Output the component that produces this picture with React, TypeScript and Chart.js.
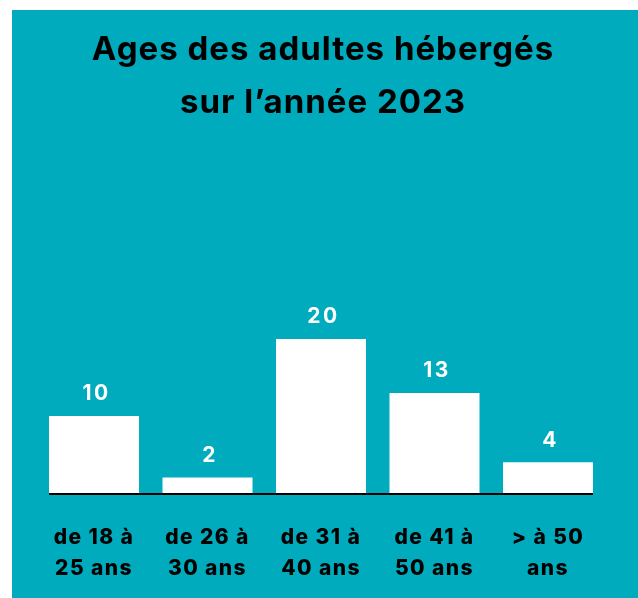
import React, { useEffect, useRef } from "react";
import { Chart, registerables } from "chart.js";

Chart.register(...registerables);

const titleLines = ["Ages des adultes hébergés", "sur l\u2019année 2023"];
const categories: string[][] = [
  ["de 18 à", "25 ans"],
  ["de 26 à", "30 ans"],
  ["de 31 à", "40 ans"],
  ["de 41 à", "50 ans"],
  ["> à 50", "ans"],
];
const values = [10, 2, 20, 13, 4];

const TEAL = "#00abbd";
const FONT = "Inter, 'DejaVu Sans', sans-serif";

const overlayPlugin = {
  id: "overlay",
  beforeDraw(chart: any) {
    // wider tracking for the axis labels drawn by the x scale
    (chart.ctx as any).letterSpacing = "1.4px";
  },
  beforeDatasetsDraw(chart: any) {
    (chart.ctx as any).letterSpacing = "0px";
  },
  afterDraw(chart: any) {
    const ctx = chart.ctx;
    const meta = chart.getDatasetMeta(0);
    const bars = meta.data;
    const y0 = chart.scales.y.getPixelForValue(0);
    ctx.save();
    // title
    ctx.fillStyle = "#000";
    ctx.font = `700 33px ${FONT}`;
    ctx.textAlign = "center";
    ctx.textBaseline = "middle";
    (ctx as any).letterSpacing = "1px";
    const cx = chart.width / 2 - 2;
    titleLines.forEach((t, i) => ctx.fillText(t, cx, 40.5 + i * 52.5));
    // baseline
    const first = bars[0];
    const last = bars[bars.length - 1];
    ctx.strokeStyle = "#000";
    ctx.lineWidth = 2;
    ctx.beginPath();
    ctx.moveTo(first.x - first.width / 2, y0 + 1);
    ctx.lineTo(last.x + last.width / 2, y0 + 1);
    ctx.stroke();
    // value labels
    ctx.fillStyle = "#fff";
    ctx.font = `700 21px ${FONT}`;
    (ctx as any).letterSpacing = "2.5px";
    bars.forEach((b: any, i: number) => {
      ctx.fillText(String(values[i]), b.x + 2.5, b.y - 22);
    });
    ctx.restore();
    (ctx as any).letterSpacing = "0px";
  },
};

export default function App() {
  const ref = useRef<HTMLCanvasElement>(null);
  useEffect(() => {
    const chart = new Chart(ref.current!, {
      type: "bar",
      data: {
        labels: categories,
        datasets: [
          {
            data: values,
            backgroundColor: "#ffffff",
            borderWidth: 0,
            barPercentage: 0.793,
            categoryPercentage: 1,
          },
        ],
      },
      options: {
        animation: false,
        responsive: false,
        maintainAspectRatio: false,
        layout: { padding: { left: 25.25, right: 33.25, top: 329, bottom: 13 } },
        plugins: {
          legend: { display: false },
          tooltip: { enabled: false },
          title: { display: false },
        },
        scales: {
          x: {
            grid: { display: false, drawTicks: false },
            border: { display: false },
            ticks: {
              color: "#000",
              font: { family: FONT, size: 21, weight: "800", lineHeight: 31 / 21 },
              padding: 29,
              maxRotation: 0,
              autoSkip: false,
            },
            afterFit(scale: any) {
              scale.height = 92;
            },
          },
          y: { display: false, min: 0, max: 20 },
        },
      },
      plugins: [overlayPlugin],
    });
    return () => chart.destroy();
  }, []);
  return (
    <div style={{ position: "fixed", left: 0, top: 0, width: 638, height: 598, background: "#fff" }}>
      <div style={{ position: "absolute", left: 12, top: 10, width: 626, height: 588, background: TEAL }}>
        <canvas ref={ref} width={626} height={588} style={{ display: "block", width: 626, height: 588 }} />
      </div>
    </div>
  );
}
